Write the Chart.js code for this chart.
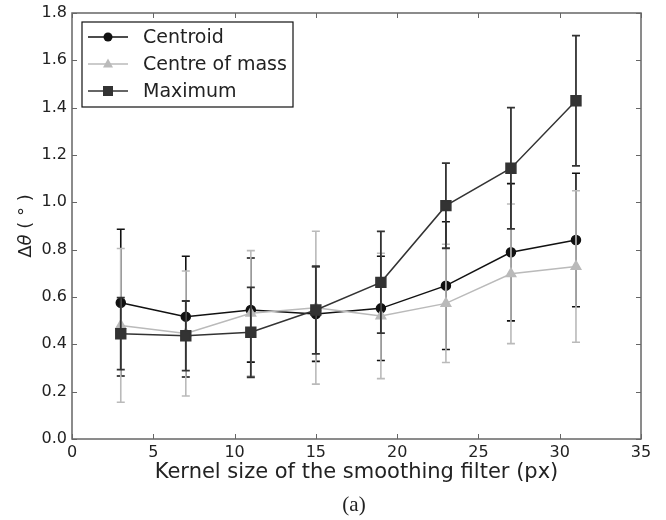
<!DOCTYPE html>
<html>
<head>
<meta charset="utf-8">
<script src="https://cdn.jsdelivr.net/npm/chart.js@4"></script>
<style>
  body { margin: 0; background: #fff; }
  #wrap { width: 666px; height: 520px; position: relative; }
</style>
</head>
<body>
<div id="wrap"><canvas id="errChart"></canvas></div>
<script>
const kernelSizes = [3, 7, 11, 15, 19, 23, 27, 31];

const centroidMean = [0.576, 0.517, 0.545, 0.528, 0.552, 0.648, 0.789, 0.841];
const centroidErr  = [0.310, 0.255, 0.220, 0.200, 0.220, 0.270, 0.290, 0.282];

const comMean = [0.480, 0.446, 0.531, 0.555, 0.520, 0.573, 0.698, 0.729];
const comErr  = [0.325, 0.264, 0.265, 0.323, 0.265, 0.250, 0.295, 0.320];

const maxMean = [0.445, 0.436, 0.451, 0.545, 0.662, 0.986, 1.144, 1.429];
const maxErr  = [0.152, 0.147, 0.190, 0.185, 0.215, 0.180, 0.256, 0.275];

const xTicks = [0, 5, 10, 15, 20, 25, 30, 35];
const yTicks = [0.0, 0.2, 0.4, 0.6, 0.8, 1.0, 1.2, 1.4, 1.6, 1.8];

const textColor = '#222';
const frameColor = '#666';

function toPoints(means) {
    return kernelSizes.map((k, i) => ({ x: k, y: means[i] }));
}

// error bars, drawn just under each series' line
const errorBars = {
    id: 'errorBars',
    beforeDatasetDraw(chart, args) {
        const ds = chart.data.datasets[args.index];
        const { ctx, scales: { x, y } } = chart;
        ctx.save();
        ctx.strokeStyle = ds.borderColor;
        ctx.lineWidth = ds.errWidth;
        ds.errors.forEach((e, i) => {
            const px = x.getPixelForValue(kernelSizes[i]);
            const top = y.getPixelForValue(ds.data[i].y + e);
            const bot = y.getPixelForValue(ds.data[i].y - e);
            ctx.beginPath();
            ctx.moveTo(px, top); ctx.lineTo(px, bot);
            ctx.moveTo(px - 4, top); ctx.lineTo(px + 4, top);
            ctx.moveTo(px - 4, bot); ctx.lineTo(px + 4, bot);
            ctx.stroke();
        });
        ctx.restore();
    }
};

// matplotlib style frame with inward ticks
const frame = {
    id: 'frame',
    beforeDatasetsDraw(chart) {
        const { ctx, chartArea: a, scales: { x, y } } = chart;
        ctx.save();
        ctx.strokeStyle = frameColor;
        ctx.lineWidth = 1.5;
        ctx.strokeRect(a.left, a.top, a.right - a.left, a.bottom - a.top);
        ctx.lineWidth = 1;
        ctx.beginPath();
        xTicks.forEach(v => {
            const px = Math.round(x.getPixelForValue(v)) + 0.5;
            ctx.moveTo(px, a.bottom); ctx.lineTo(px, a.bottom - 5);
            ctx.moveTo(px, a.top); ctx.lineTo(px, a.top + 5);
        });
        yTicks.forEach(v => {
            const py = Math.round(y.getPixelForValue(v)) + 0.5;
            ctx.moveTo(a.left, py); ctx.lineTo(a.left + 5, py);
            ctx.moveTo(a.right, py); ctx.lineTo(a.right - 5, py);
        });
        ctx.stroke();
        ctx.restore();
    }
};

function marker(ctx, style, cx, cy, color) {
    ctx.fillStyle = color;
    ctx.beginPath();
    if (style === 'circle') {
        ctx.arc(cx, cy, 4.5, 0, Math.PI * 2);
    } else if (style === 'triangle') {
        ctx.moveTo(cx, cy - 5.5);
        ctx.lineTo(cx + 5, cy + 3.5);
        ctx.lineTo(cx - 5, cy + 3.5);
        ctx.closePath();
    } else {
        ctx.rect(cx - 5, cy - 5, 10, 10);
    }
    ctx.fill();
}

const extras = {
    id: 'extras',
    afterDraw(chart) {
        const { ctx, chartArea: a } = chart;
        ctx.save();
        // legend box
        const lx = a.left + 10, ly = a.top + 9;
        ctx.fillStyle = '#fff';
        ctx.fillRect(lx, ly, 211, 85);
        ctx.strokeStyle = '#111';
        ctx.lineWidth = 1.2;
        ctx.strokeRect(lx, ly, 211, 85);
        ctx.font = '19px "DejaVu Sans"';
        ctx.textBaseline = 'middle';
        [0, 1, 2].forEach((di, r) => {
            const ds = chart.data.datasets[di];
            const cy = ly + 15 + r * 27;
            ctx.strokeStyle = ds.borderColor;
            ctx.lineWidth = 1.5;
            ctx.beginPath();
            ctx.moveTo(lx + 6, cy); ctx.lineTo(lx + 46, cy);
            ctx.stroke();
            marker(ctx, ds.pointStyle, lx + 26, cy, ds.pointBackgroundColor);
            ctx.fillStyle = textColor;
            ctx.fillText(ds.label, lx + 61, cy + 1);
        });
        // y axis title, theta in italic
        ctx.translate(26, (a.top + a.bottom) / 2);
        ctx.rotate(-Math.PI / 2);
        const parts = [
            ['Δ', '18px "DejaVu Sans"'],
            ['θ', 'italic 18px "DejaVu Sans"'],
            [' ( ° )', '18px "DejaVu Sans"']
        ];
        let total = 0;
        parts.forEach(p => { ctx.font = p[1]; total += ctx.measureText(p[0]).width; });
        let cx = -total / 2;
        ctx.fillStyle = textColor;
        ctx.textAlign = 'left';
        ctx.textBaseline = 'middle';
        parts.forEach(p => {
            ctx.font = p[1];
            ctx.fillText(p[0], cx, 0);
            cx += ctx.measureText(p[0]).width;
        });
        ctx.restore();
        // panel caption
        ctx.save();
        ctx.font = '21px "Liberation Serif"';
        ctx.fillStyle = textColor;
        ctx.textAlign = 'center';
        ctx.textBaseline = 'middle';
        ctx.fillText('(a)', 354, 505);
        ctx.restore();
    }
};

function noOverflow(scale) {
    scale.paddingTop = 0;
    scale.paddingBottom = 0;
    scale.paddingLeft = 0;
    scale.paddingRight = 0;
}

new Chart(document.getElementById('errChart'), {
    type: 'line',
    data: {
        datasets: [
            {
                label: 'Centroid',
                data: toPoints(centroidMean),
                errors: centroidErr,
                errWidth: 1.6,
                borderColor: '#111',
                pointBackgroundColor: '#111',
                pointBorderColor: '#111',
                pointStyle: 'circle',
                pointRadius: 4.5,
                borderWidth: 1.5,
                order: 3
            },
            {
                label: 'Centre of mass',
                data: toPoints(comMean),
                errors: comErr,
                errWidth: 1.6,
                borderColor: '#bababa',
                pointBackgroundColor: '#bababa',
                pointBorderColor: '#bababa',
                pointStyle: 'triangle',
                pointRadius: 5.5,
                borderWidth: 1.5,
                order: 2
            },
            {
                label: 'Maximum',
                data: toPoints(maxMean),
                errors: maxErr,
                errWidth: 1.8,
                borderColor: '#333',
                pointBackgroundColor: '#333',
                pointBorderColor: '#333',
                pointStyle: 'rect',
                pointRadius: 7,
                borderWidth: 1.5,
                order: 1
            }
        ]
    },
    options: {
        responsive: true,
        maintainAspectRatio: false,
        animation: false,
        layout: { padding: { top: 13, right: 25, left: 0, bottom: 0 } },
        plugins: {
            legend: { display: false },
            tooltip: { enabled: false }
        },
        scales: {
            x: {
                type: 'linear',
                min: 0,
                max: 35,
                afterFit(scale) { scale.height = 81; noOverflow(scale); },
                afterBuildTicks(scale) { scale.ticks = xTicks.map(v => ({ value: v })); },
                border: { display: false },
                grid: { display: false, drawTicks: false },
                ticks: {
                    color: textColor,
                    padding: 4,
                    maxRotation: 0,
                    font: { family: 'DejaVu Sans', size: 16 }
                },
                title: {
                    display: true,
                    text: 'Kernel size of the smoothing filter (px)',
                    color: textColor,
                    font: { family: 'DejaVu Sans', size: 21 },
                    padding: { top: 0, bottom: 35 }
                }
            },
            y: {
                min: 0,
                max: 1.8,
                afterFit(scale) { scale.width = 72; noOverflow(scale); },
                afterBuildTicks(scale) { scale.ticks = yTicks.map(v => ({ value: v })); },
                border: { display: false },
                grid: { display: false, drawTicks: false },
                ticks: {
                    color: textColor,
                    padding: 5,
                    font: { family: 'DejaVu Sans', size: 16 },
                    callback: v => v.toFixed(1)
                }
            }
        }
    },
    plugins: [frame, errorBars, extras]
});
</script>
</body>
</html>
